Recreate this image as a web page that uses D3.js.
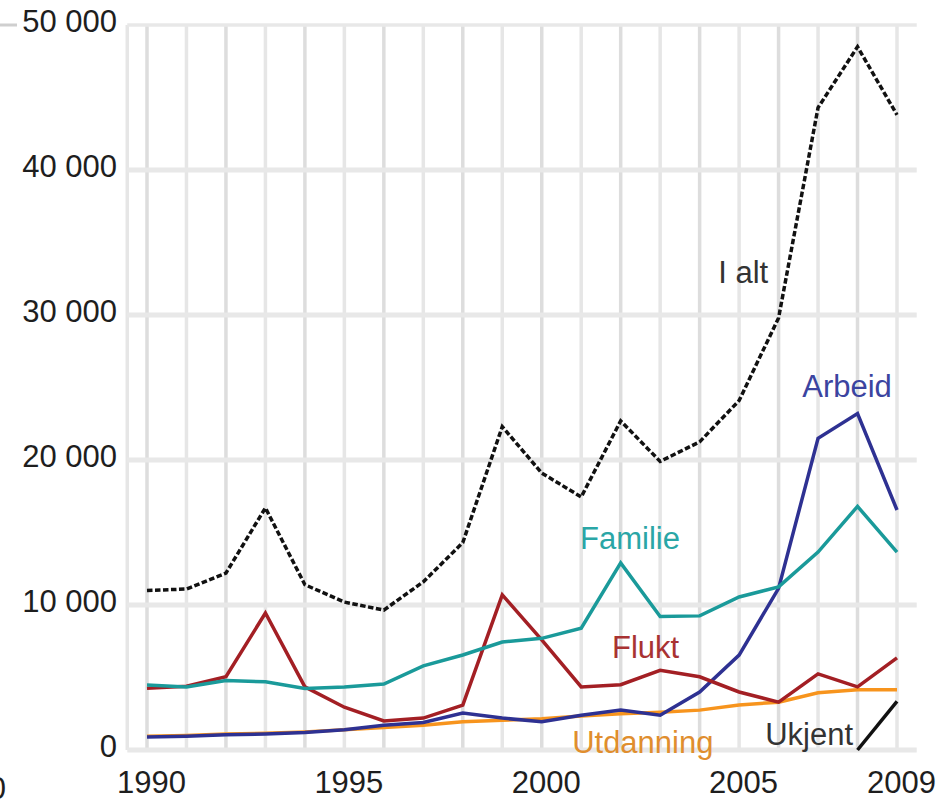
<!DOCTYPE html>
<html>
<head>
<meta charset="utf-8">
<script src="https://cdn.jsdelivr.net/npm/d3@7"></script>
<style>
  html, body { margin: 0; padding: 0; background: #fff; }
  svg { display: block; font-family: "Liberation Sans", Arial, sans-serif; }
</style>
</head>
<body>
<svg id="chart" width="939" height="804"></svg>
<script>
const years = d3.range(1990, 2010);
const yTicks = [0, 10000, 20000, 30000, 40000, 50000];
const yTickLabels = ["0", "10 000", "20 000", "30 000", "40 000", "50 000"];
const xTickYears = [1990, 1995, 2000, 2005, 2009];

const iAlt      = [11000, 11100, 12200, 16700, 11400, 10200, 9650, 11600, 14300, 22300, 19100, 17450, 22700, 19900, 21250, 24100, 29800, 44300, 48500, 43800];
const familie   = [4480, 4350, 4800, 4700, 4250, 4350, 4550, 5800, 6550, 7450, 7700, 8400, 12900, 9200, 9250, 10550, 11250, 13650, 16800, 13650];
const flukt     = [4250, 4400, 5050, 9450, 4350, 2950, 2000, 2200, 3100, 10700, 7600, 4350, 4500, 5500, 5050, 4000, 3300, 5250, 4350, 6350];
const arbeid    = [900, 950, 1050, 1100, 1200, 1400, 1700, 1900, 2550, 2200, 1950, 2400, 2750, 2400, 4000, 6550, 11150, 21500, 23200, 16550];
const utdanning = [950, 1000, 1100, 1150, 1250, 1400, 1550, 1700, 1950, 2050, 2150, 2350, 2500, 2600, 2750, 3100, 3300, 3950, 4150, 4150];
const ukjent    = [null, null, null, null, null, null, null, null, null, null, null, null, null, null, null, null, null, null, 0, 3350];

const seriesNames = ["Utdanning", "Arbeid", "Flukt", "Familie", "I alt", "Ukjent"];
const seriesValues = [utdanning, arbeid, flukt, familie, iAlt, ukjent];
const seriesColors = ["#f7941d", "#2e3192", "#a31f24", "#1a9a9a", "#111111", "#111111"];
const seriesDash = [null, null, null, null, "5.5,2.5", null];

// label anchor positions (year, value) for the in-chart labels
const labelNames  = ["I alt", "Arbeid", "Familie", "Flukt", "Utdanning", "Ukjent"];
const labelYears  = [2004.47, 2006.6, 2000.97, 2001.78, 2000.77, 2005.66];
const labelVals   = [32200, 24350, 13860, 6350, -200, 350];
const labelColors = ["#333333", "#3b44a0", "#2aa6a6", "#a83232", "#e08e2e", "#333333"];

const svg = d3.select("#chart");
const x = d3.scaleLinear().domain([1990, 2009]).range([147, 897]);
const y = d3.scaleLinear().domain([0, 50000]).range([750, 25]);

const left = x(1989.5), right = x(2009.5);
const grid = svg.append("g");

// vertical gridlines (one per year) + left border
grid.selectAll("line.v").data([1989.5].concat(years)).enter().append("line")
  .attr("x1", d => x(d)).attr("x2", d => x(d))
  .attr("y1", y(50000)).attr("y2", y(0))
  .attr("stroke", (d, i) => i % 2 ? "#dddddd" : "#e6e6e6")
  .attr("stroke-width", 3.5);

// horizontal gridlines
grid.selectAll("line.h").data(yTicks).enter().append("line")
  .attr("x1", left).attr("x2", right)
  .attr("y1", d => y(d)).attr("y2", d => y(d))
  .attr("stroke", "#e8e8e8").attr("stroke-width", d => d === 50000 ? 3.5 : 5);

// y axis labels
const yAxis = d3.axisLeft(y).tickValues(yTicks)
  .tickFormat((d, i) => yTickLabels[i]).tickSize(0).tickPadding(0);
const ya = svg.append("g").attr("transform", `translate(117,-3)`).call(yAxis);
ya.select(".domain").remove();
ya.selectAll("text").attr("font-size", 31).attr("fill", "#1e1e1e")
  .attr("font-family", "Liberation Sans, Arial, sans-serif");

// x axis labels
const xAxis = d3.axisBottom(x).tickValues(xTickYears).tickFormat(d3.format("d")).tickSize(0).tickPadding(0);
const xa = svg.append("g").attr("transform", `translate(4,771)`).call(xAxis);
xa.select(".domain").remove();
xa.selectAll("text").attr("font-size", 31).attr("fill", "#1e1e1e").attr("dy", "0.71em")
  .attr("font-family", "Liberation Sans, Arial, sans-serif");

// fragments of neighbouring chart at the left edge
svg.append("line").attr("x1", 0).attr("x2", 17).attr("y1", y(50000)).attr("y2", y(50000))
  .attr("stroke", "#cfcfcf").attr("stroke-width", 3);
svg.append("text").attr("x", 6).attr("y", 799).attr("text-anchor", "end")
  .attr("font-size", 31).attr("fill", "#1e1e1e").text("0");

// lines
const line = d3.line().defined(d => d != null).x((d, i) => x(years[i])).y(d => y(d));
const lines = svg.append("g");
seriesValues.forEach((vals, k) => {
  lines.append("path").datum(vals)
    .attr("d", line)
    .attr("fill", "none")
    .attr("stroke", seriesColors[k])
    .attr("stroke-width", 3.5)
    .attr("stroke-linejoin", "miter")
    .attr("stroke-dasharray", seriesDash[k])
    .attr("class", "series " + seriesNames[k]);
});

// labels
svg.append("g").selectAll("text").data(labelNames).enter().append("text")
  .attr("x", (d, i) => x(labelYears[i]))
  .attr("y", (d, i) => y(labelVals[i]))
  .attr("font-size", 31)
  .attr("fill", (d, i) => labelColors[i])
  .text(d => d);
</script>
</body>
</html>
